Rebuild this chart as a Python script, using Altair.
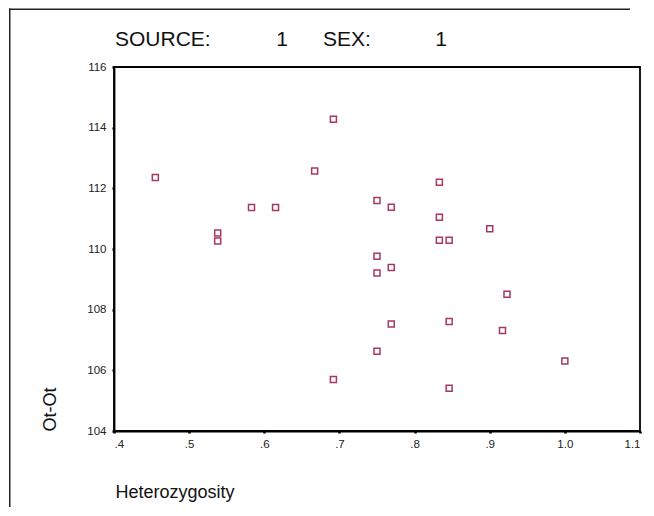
import altair as alt
import pandas as pd

# Data
heterozygosity = [0.455, 0.538, 0.538, 0.583, 0.615, 0.667, 0.692, 0.692, 0.750,
                  0.769, 0.833, 0.833, 0.900, 0.833, 0.846, 0.750, 0.769, 0.750,
                  0.923, 0.769, 0.846, 0.917, 0.750, 0.846, 1.000]
ot_ot = [112.36, 110.53, 110.26, 111.37, 111.37, 112.57, 114.28, 105.70, 111.60,
         111.38, 112.20, 111.05, 110.67, 110.29, 110.29, 109.76, 109.39, 109.21,
         108.51, 107.53, 107.61, 107.31, 106.63, 105.41, 106.31]

x_ticks = [0.4, 0.5, 0.6, 0.7, 0.8, 0.9, 1.0, 1.1]
y_ticks = [104, 106, 108, 110, 112, 114, 116]
title_parts = ["SOURCE:", "1", "SEX:", "1"]

df = pd.DataFrame({"Heterozygosity": heterozygosity, "Ot-Ot": ot_ot})
one = pd.DataFrame({"k": [0]})

FONT = "Liberation Sans"
W, H = 526, 364

points = alt.Chart(df).mark_point(
    shape="square", filled=False, size=36, strokeWidth=1.5, color="#a8385c", opacity=1
).encode(
    x=alt.X("Heterozygosity:Q",
            scale=alt.Scale(domain=[0.4, 1.1], nice=False, zero=False),
            axis=alt.Axis(values=x_ticks,
                          labelExpr="datum.value < 1 ? substring(format(datum.value, '.1f'), 1) : format(datum.value, '.1f')",
                          title="Heterozygosity", titleX=1, titleY=66,
                          titleAlign="left", titleBaseline="alphabetic",
                          titleFontSize=18, titleFontWeight="normal",
                          labelPadding=5, grid=False)),
    y=alt.Y("Ot-Ot:Q",
            scale=alt.Scale(domain=[104, 116], nice=False, zero=False),
            axis=alt.Axis(values=y_ticks, format="d",
                          title="Ot-Ot", titleAngle=-90, titleX=-64, titleY=H,
                          titleAlign="left", titleBaseline="middle",
                          titleFontSize=18, titleFontWeight="normal",
                          labelPadding=6, grid=False)),
)

def title_text(txt, x, align):
    return alt.Chart(one).mark_text(
        text=txt, font=FONT, fontSize=21, align=align, baseline="alphabetic", color="#111"
    ).encode(x=alt.value(x), y=alt.value(-21))

t1 = title_text(title_parts[0], 1, "left")
t2 = title_text(title_parts[1], 168, "center")
t3 = title_text(title_parts[2], 209, "left")
t4 = title_text(title_parts[3], 327, "center")

# outer page frame: left edge, and a top edge that stops short of the page's right side
left_edge = alt.Chart(one).mark_rule(color="#222", strokeWidth=1.5).encode(
    x=alt.value(-104.25), y=alt.value(-58.5), y2=alt.value(H + 76),
)
top_edge = alt.Chart(one).mark_rule(color="#222", strokeWidth=1.5).encode(
    x=alt.value(-105), x2=alt.value(W - 10), y=alt.value(-57.75),
)

chart = alt.layer(left_edge, top_edge, points, t1, t2, t3, t4).properties(
    width=W, height=H,
    autosize=alt.AutoSizeParams(type="none"),
    padding={"left": 106, "top": 59, "right": 6, "bottom": 77},
    background="white",
).configure_view(
    stroke="black", strokeWidth=1.8
).configure_axis(
    labelFont=FONT, titleFont=FONT, labelFontSize=11.5, labelColor="#222",
    titleColor="#111", domainColor="black", domainWidth=1.8,
    tickColor="black", tickSize=2, tickWidth=2.5,
)

chart.save("out.html", embed_options={"renderer": "svg", "actions": False})
